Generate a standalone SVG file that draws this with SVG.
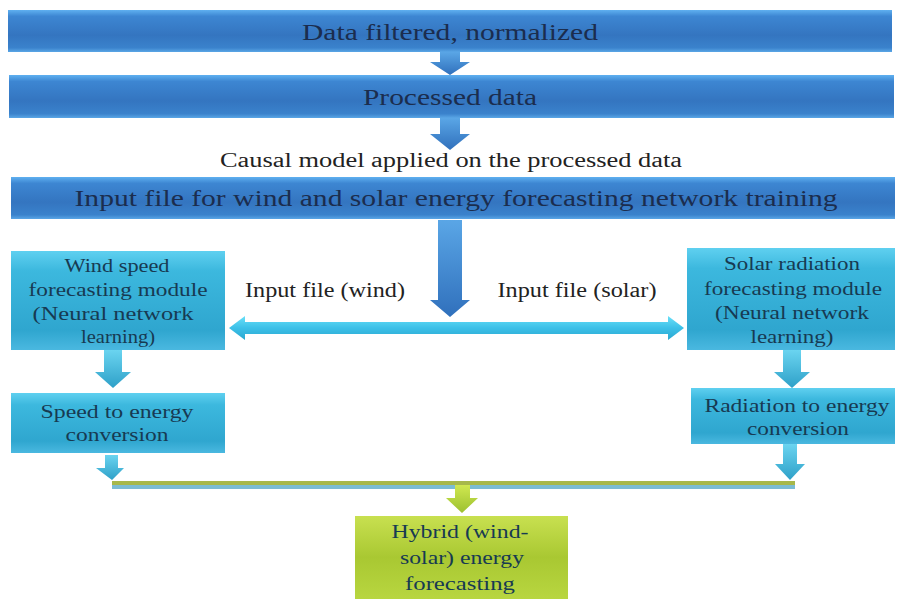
<svg xmlns="http://www.w3.org/2000/svg" width="897" height="600" viewBox="0 0 897 600">
<defs>
<linearGradient id="gBlue" x1="0" y1="0" x2="0" y2="1">
<stop offset="0" stop-color="#5fb0f0"/><stop offset="0.15" stop-color="#3d86d2"/><stop offset="0.6" stop-color="#3475c0"/><stop offset="0.9" stop-color="#3a82cc"/><stop offset="1" stop-color="#5aa6e6"/>
</linearGradient>
<linearGradient id="gCyan" x1="0" y1="0" x2="0" y2="1">
<stop offset="0" stop-color="#5fd0f0"/><stop offset="0.2" stop-color="#3cb8de"/><stop offset="0.8" stop-color="#2fa6cf"/><stop offset="1" stop-color="#4ab8e0"/>
</linearGradient>
<linearGradient id="gGreen" x1="0" y1="0" x2="0" y2="1">
<stop offset="0" stop-color="#c8e050"/><stop offset="0.5" stop-color="#a9c832"/><stop offset="1" stop-color="#b8d640"/>
</linearGradient>
<linearGradient id="gArrowBlue" x1="0" y1="0" x2="0" y2="1">
<stop offset="0" stop-color="#5aa6e6"/><stop offset="1" stop-color="#3070bc"/>
</linearGradient>
<linearGradient id="gArrowCyan" x1="0" y1="0" x2="0" y2="1">
<stop offset="0" stop-color="#6ad4f0"/><stop offset="1" stop-color="#2ea0c8"/>
</linearGradient>
<linearGradient id="gArrowGreen" x1="0" y1="0" x2="0" y2="1">
<stop offset="0" stop-color="#d0e850"/><stop offset="1" stop-color="#9cc030"/>
</linearGradient>
<linearGradient id="gHbar" x1="0" y1="0" x2="0" y2="1">
<stop offset="0" stop-color="#6ae0f8"/><stop offset="0.5" stop-color="#3cc0e8"/><stop offset="1" stop-color="#2aa8d0"/>
</linearGradient>
</defs>
<style>
text{font-family:'Liberation Serif','DejaVu Serif','Times New Roman',serif;text-anchor:middle}
.big{font-size:24px;fill:#1b2d4e}
.mid{font-size:19px;fill:#173a52}
.lbl{font-size:20px;fill:#222}
.blue{fill:url(#gBlue)}
.cyan{fill:url(#gCyan)}
.green{fill:url(#gGreen)}
</style>

<g id="n-filtered">
<rect class="blue" x="8" y="10" width="884" height="42"/>
<text class="big" x="450" y="40" textLength="296" lengthAdjust="spacingAndGlyphs">Data filtered, normalized</text>
</g>
<g id="n-processed">
<rect class="blue" x="9" y="75" width="885" height="43"/>
<text class="big" x="450" y="105" textLength="174" lengthAdjust="spacingAndGlyphs">Processed data</text>
</g>
<g id="n-causal">
<text class="lbl" x="451" y="167" textLength="462" lengthAdjust="spacingAndGlyphs">Causal model applied on the processed data</text>
</g>
<g id="n-input">
<rect class="blue" x="11" y="177" width="884" height="42"/>
<text class="big" x="456" y="206" textLength="763" lengthAdjust="spacingAndGlyphs">Input file for wind and solar energy forecasting network training</text>
</g>
<g id="n-wind">
<rect class="cyan" x="11" y="251" width="214" height="99"/>
<text class="mid" x="117" y="272" textLength="105" lengthAdjust="spacingAndGlyphs">Wind speed</text>
<text class="mid" x="118" y="296" textLength="179" lengthAdjust="spacingAndGlyphs">forecasting module</text>
<text class="mid" x="113" y="320" textLength="161" lengthAdjust="spacingAndGlyphs">(Neural network</text>
<text class="mid" x="118" y="343" textLength="74" lengthAdjust="spacingAndGlyphs">learning)</text>
</g>
<g id="n-speed">
<rect class="cyan" x="11" y="393" width="214" height="60"/>
<text class="mid" x="117" y="418" textLength="153" lengthAdjust="spacingAndGlyphs">Speed to energy</text>
<text class="mid" x="117" y="441" textLength="103" lengthAdjust="spacingAndGlyphs">conversion</text>
</g>
<g id="n-solar">
<rect class="cyan" x="687" y="248" width="208" height="102"/>
<text class="mid" x="792" y="270" textLength="136" lengthAdjust="spacingAndGlyphs">Solar radiation</text>
<text class="mid" x="793" y="295" textLength="178" lengthAdjust="spacingAndGlyphs">forecasting module</text>
<text class="mid" x="792" y="319" textLength="154" lengthAdjust="spacingAndGlyphs">(Neural network</text>
<text class="mid" x="792" y="343" textLength="83" lengthAdjust="spacingAndGlyphs">learning)</text>
</g>
<g id="n-radiation">
<rect class="cyan" x="691" y="388" width="204" height="56"/>
<text class="mid" x="797" y="412" textLength="185" lengthAdjust="spacingAndGlyphs">Radiation to energy</text>
<text class="mid" x="798" y="435" textLength="102" lengthAdjust="spacingAndGlyphs">conversion</text>
</g>
<g id="n-hybrid">
<rect class="green" x="355" y="516" width="213" height="83"/>
<text class="mid" x="460" y="538" textLength="137" lengthAdjust="spacingAndGlyphs">Hybrid (wind-</text>
<text class="mid" x="462" y="564" textLength="124" lengthAdjust="spacingAndGlyphs">solar) energy</text>
<text class="mid" x="460" y="590" textLength="110" lengthAdjust="spacingAndGlyphs">forecasting</text>
</g>
<g id="labels">
<text class="lbl" x="325" y="297" textLength="160" lengthAdjust="spacingAndGlyphs">Input file (wind)</text>
<text class="lbl" x="577" y="297" textLength="159" lengthAdjust="spacingAndGlyphs">Input file (solar)</text>
</g>

<g id="connectors">
<polygon fill="url(#gArrowBlue)" points="440,52 460,52 460,62 470,62 450,75 430,62 440,62"/>
<polygon fill="url(#gArrowBlue)" points="440,118 460,118 460,134 470,134 450,150 430,134 440,134"/>
<polygon fill="url(#gArrowBlue)" points="438,220 462,220 462,300 470,300 450,317 430,300 438,300"/>
<polygon fill="url(#gHbar)" points="245,322 668,322 668,316 684,328 668,340 668,334 245,334 245,340 229,328 245,316"/>
<polygon fill="url(#gArrowCyan)" points="104,350 122,350 122,372 131,372 113,388 95,372 104,372"/>
<polygon fill="url(#gArrowCyan)" points="783,350 801,350 801,372 810,372 792,388 774,372 783,372"/>
<polygon fill="url(#gArrowCyan)" points="105,455 118,455 118,468 124,468 112,480 96,468 105,468"/>
<polygon fill="url(#gArrowCyan)" points="783,444 797,444 797,464 805,464 790,480 775,464 783,464"/>
<rect x="112" y="484" width="683" height="5" fill="#7bbcd4"/>
<rect x="112" y="481" width="683" height="4" fill="#a7b84a"/>
<polygon fill="url(#gArrowGreen)" points="455,485 470,485 470,498 478,498 462,513 446,498 455,498"/>
</g>
</svg>
